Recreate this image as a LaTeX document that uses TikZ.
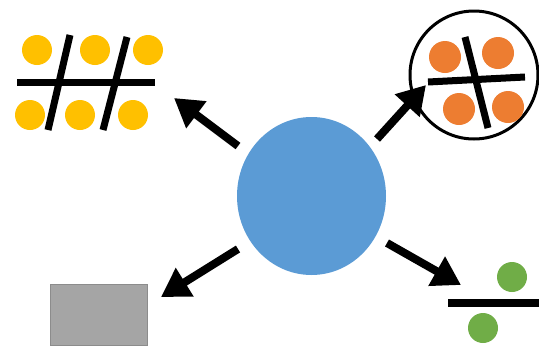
\documentclass[tikz,border=0pt]{standalone}
\usetikzlibrary{arrows.meta,shapes.geometric}
\definecolor{myblue}{HTML}{5B9BD5}
\definecolor{myyellow}{HTML}{FFC000}
\definecolor{myorange}{HTML}{ED7D31}
\definecolor{mygreen}{HTML}{70AD47}
\definecolor{mygray}{HTML}{A5A5A5}
\definecolor{mygrayline}{HTML}{8C8C8C}
\tikzset{
  bigarrow/.style={line width=8pt,-{Triangle[length=28pt,width=32pt]}},
  bar/.style={line width=7pt},
  dot/.style={circle,inner sep=0pt,minimum size=30pt},
}
\begin{document}
\begin{tikzpicture}[x=1pt,y=-1pt]
\useasboundingbox (0,0) rectangle (539,349);
% center
\node[ellipse,fill=myblue,minimum width=149pt,minimum height=158pt,inner sep=0pt] (center) at (311.5,196) {};
% yellow group
\foreach \x/\y/\n in {37/50/y1,95/50/y2,148/50/y3,30/115/y4,80/115/y5,133/115/y6}
  \node[dot,fill=myyellow] (\n) at (\x,\y) {};
\draw[bar] (17,82) -- (155,82);
\draw[bar] (70,35) -- (48,130);
\draw[bar] (127,37) -- (103,130);
% orange group
\node[circle,draw,line width=3pt,minimum size=128pt,inner sep=0pt] (ring) at (474,75) {};
\foreach \x/\y/\n in {445/57/o1,498/53/o2,459/109/o3,508/107/o4}
  \node[dot,fill=myorange,minimum size=32pt] (\n) at (\x,\y) {};
\draw[bar] (428,82) -- (525,77);
\draw[bar] (465,37) -- (488,128);
% gray box
\node[draw=mygrayline,fill=mygray,line width=1pt,minimum width=97pt,minimum height=61pt,inner sep=0pt] (box) at (98.5,314.5) {};
% green group
\node[dot,fill=mygreen] (g1) at (512,277) {};
\node[dot,fill=mygreen] (g2) at (483,328) {};
\draw[bar,line width=8pt] (448,303) -- (539,303);
% arrows
\coordinate (t1) at (238,146); \coordinate (h1) at (174,98);
\coordinate (t2) at (377,139); \coordinate (h2) at (426,85);
\coordinate (t3) at (238,249); \coordinate (h3) at (161,297);
\coordinate (t4) at (387,243); \coordinate (h4) at (461,285);
\draw[bigarrow] (t1) -- (h1);
\draw[bigarrow] (t2) -- (h2);
\draw[bigarrow] (t3) -- (h3);
\draw[bigarrow] (t4) -- (h4);
\end{tikzpicture}
\end{document}
